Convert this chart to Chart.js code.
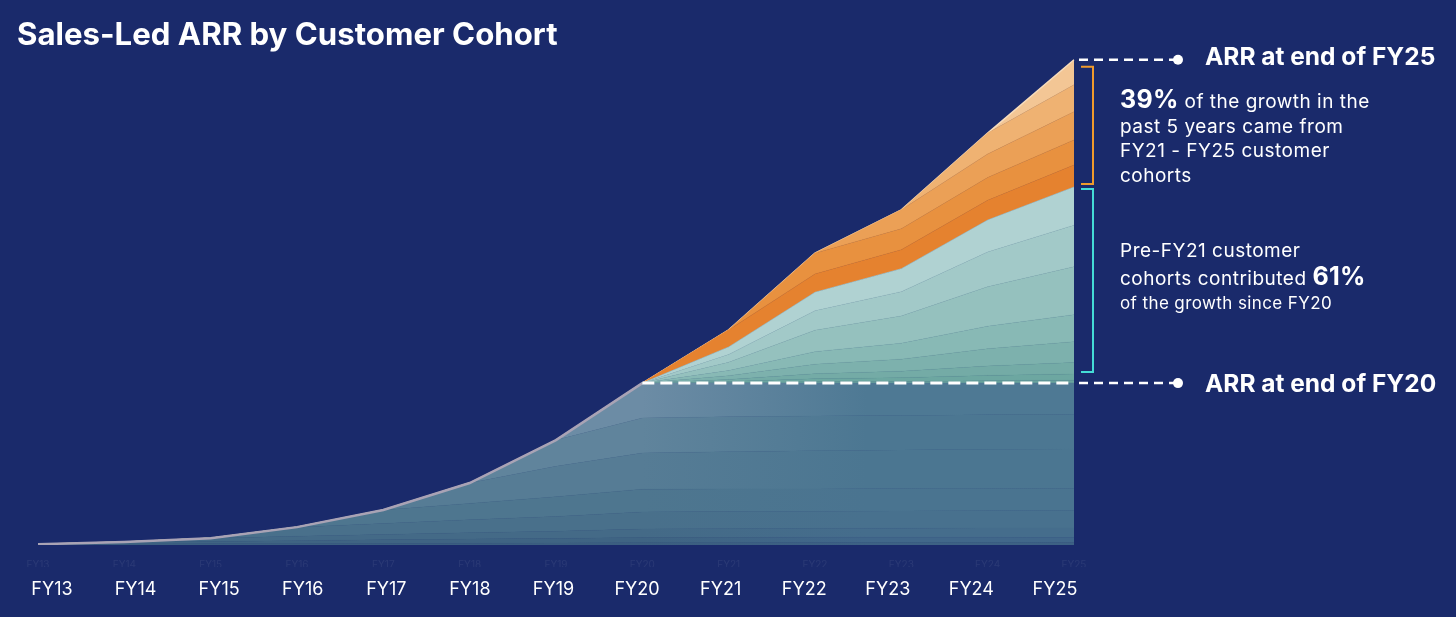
<!DOCTYPE html>
<html>
<head>
<meta charset="utf-8">
<script src="https://cdn.jsdelivr.net/npm/chart.js@4.4.1/dist/chart.umd.min.js"></script>
<style>
  html, body { margin: 0; padding: 0; background: #1a2a6b; }
  #wrap { position: relative; width: 1456px; height: 617px; font-family: Inter, "Noto Sans", sans-serif; color: #fff; }
  #arrChart { position: absolute; left: 0; top: 0; }
  .title { position: absolute; left: 17px; top: 19px; font-size: 31.2px; line-height: 31.5px; font-weight: 700; white-space: nowrap; }
  .big { position: absolute; left: 1205px; font-size: 24.5px; line-height: 24.5px; font-weight: 700; white-space: nowrap; }
  .note { position: absolute; left: 1120px; font-size: 19px; line-height: 24.5px; letter-spacing: 0.5px; white-space: nowrap; }
  .note b { font-size: 25px; font-weight: 700; letter-spacing: 0.3px; }
  .small { font-size: 17px; letter-spacing: 0.4px; }
</style>
</head>
<body>
<div id="wrap">
  <canvas id="arrChart" width="1456" height="617"></canvas>
  <div class="title">Sales-Led ARR by Customer Cohort</div>
  <div class="big" style="top:44px">ARR at end of FY25</div>
  <div class="note" style="top:87px"><b>39%</b> of the growth in the<br>past 5 years came from<br>FY21 - FY25 customer<br>cohorts</div>
  <div class="note" style="top:239px">Pre-FY21 customer<br>cohorts contributed <b>61%</b><br><span class="small">of the growth since FY20</span></div>
  <div class="big" style="top:371px">ARR at end of FY20</div>
</div>
<script>
// Fiscal years on the x axis
const years = ['FY13', 'FY14', 'FY15', 'FY16', 'FY17', 'FY18', 'FY19', 'FY20', 'FY21', 'FY22', 'FY23', 'FY24', 'FY25'];

// ARR per customer cohort (estimated, $M)
const cohortFY13 = [2, 2.5, 3, 3.5, 4, 4.5, 5, 6, 7.5, 10, 11, 13, 14];
const cohortFY14 = [0, 5.5, 6.5, 8, 9.5, 11, 12, 14, 17, 21.5, 23.5, 27.5, 30];
const cohortFY15 = [0, 0, 8.5, 11.5, 14, 17, 19, 22, 28, 37, 41, 49, 55];
const cohortFY16 = [0, 0, 0, 24, 29, 34, 39, 45, 55, 70, 77, 91, 100];
const cohortFY17 = [0, 0, 0, 0, 35.5, 43, 52, 60, 73, 92, 101, 118, 130];
const cohortFY18 = [0, 0, 0, 0, 0, 53.5, 80, 95, 120, 157, 173, 207, 230];
const cohortFY19 = [0, 0, 0, 0, 0, 0, 69, 92, 112, 142, 155, 182, 200];
const cohortFY20 = [0, 0, 0, 0, 0, 0, 0, 92, 108.5, 135.5, 145.5, 167.5, 183];
const cohortFY21 = [0, 0, 0, 0, 0, 0, 0, 0, 45, 48, 50, 52, 58];
const cohortFY22 = [0, 0, 0, 0, 0, 0, 0, 0, 0, 55, 55, 60, 66];
const cohortFY23 = [0, 0, 0, 0, 0, 0, 0, 0, 0, 0, 50, 62, 74];
const cohortFY24 = [0, 0, 0, 0, 0, 0, 0, 0, 0, 0, 0, 55, 71];
const cohortFY25 = [0, 0, 0, 0, 0, 0, 0, 0, 0, 0, 0, 0, 66];

const oldCohorts = [cohortFY13, cohortFY14, cohortFY15, cohortFY16, cohortFY17, cohortFY18, cohortFY19, cohortFY20];
const newCohorts = [cohortFY21, cohortFY22, cohortFY23, cohortFY24, cohortFY25];

// bottom -> top; base colours fade from the left shade to the right shade
const baseLeft = ['#3b5e80', '#3f6483', '#446a87', '#49708b', '#4e768f', '#567c95', '#60849c', '#6c8ca5'];
const baseRight = ['#3d6184', '#41678a', '#456d8c', '#48718e', '#4a7490', '#4b7691', '#4c7792', '#4e7994'];
const growthColors = ['#68a39d', '#6da7a1', '#74aba6', '#7db1ad', '#88b9b5', '#95c1be', '#a2c9c8', '#b0d2d2'];
const newColors = ['#e5822f', '#e8913f', '#eba056', '#efb272', '#f3c695'];

const fy20Index = 7;
const oldTotals = years.map((_, i) => oldCohorts.reduce((s, c) => s + c[i], 0));
const fy20Level = oldTotals[fy20Index];
const fy20Line = oldTotals.map((v, i) => i <= fy20Index ? v : fy20Level);

// split each pre-FY21 cohort into its share of FY20 ARR and its growth on top
const shareOf = (c, i) => i <= fy20Index ? c[i] : c[i] * fy20Level / oldTotals[i];

function baseFill(k) {
    return (context) => {
        const area = context.chart.chartArea;
        if (!area) return baseLeft[k];
        const g = context.chart.ctx.createLinearGradient(area.left, 0, area.right, 0);
        g.addColorStop(0, baseLeft[k]);
        g.addColorStop(fy20Index / (years.length - 1), baseLeft[k]);
        g.addColorStop(0.8, baseRight[k]);
        g.addColorStop(1, baseRight[k]);
        return g;
    };
}

const datasets = [];
oldCohorts.forEach((c, k) => {
    datasets.push({
        label: years[k] + ' cohort', data: c.map((v, i) => shareOf(c, i)), stack: 'arr',
        backgroundColor: baseFill(k), borderColor: baseFill(k), borderWidth: 0.6,
        fill: k === 0 ? 'origin' : '-1'
    });
});
oldCohorts.forEach((c, k) => {
    datasets.push({
        label: years[k] + ' cohort growth', data: c.map((v, i) => v - shareOf(c, i)), stack: 'arr',
        backgroundColor: growthColors[k], borderColor: growthColors[k], borderWidth: 0.6,
        fill: '-1'
    });
});
newCohorts.forEach((data, k) => {
    const last = k === newCohorts.length - 1;
    datasets.push({
        label: years[k + 8] + ' cohort', data, stack: 'arr',
        backgroundColor: newColors[k],
        borderColor: last ? '#f7dcbc' : newColors[k],
        borderWidth: last ? 1.5 : 0.6,
        fill: '-1'
    });
});
// outline up to FY20, then the dashed FY20 level
datasets.push({
    label: 'ARR at end of FY20', data: fy20Line, stack: 'line', order: -1,
    fill: false, borderColor: '#a9a3b5', borderWidth: 2.5,
    segment: {
        borderColor: c => c.p0DataIndex < fy20Index ? '#a9a3b5' : '#ffffff',
        borderDash: c => c.p0DataIndex < fy20Index ? [] : [12, 6],
        borderWidth: c => c.p0DataIndex < fy20Index ? 2.5 : 3
    }
});

// leaders, dots and brackets on the right
const annotationPlugin = {
    id: 'arrAnnotations',
    afterDatasetsDraw(chart) {
        const c = chart.ctx;
        const y = chart.scales.y;
        const right = chart.chartArea.right;
        const lastIdx = years.length - 1;
        const totalEnd = oldTotals[lastIdx] + newCohorts.reduce((s, d) => s + d[lastIdx], 0);
        const yTop = y.getPixelForValue(totalEnd);
        const yOld = y.getPixelForValue(oldTotals[lastIdx]);
        const yBase = y.getPixelForValue(fy20Level);

        c.save();
        [yTop, yBase].forEach(py => {
            c.strokeStyle = '#ffffff';
            c.lineWidth = 2.5;
            c.setLineDash([9, 6]);
            c.beginPath();
            c.moveTo(right + 5, py);
            c.lineTo(right + 100, py);
            c.stroke();
            c.setLineDash([]);
            c.fillStyle = '#ffffff';
            c.beginPath();
            c.arc(right + 104, py, 5, 0, Math.PI * 2);
            c.fill();
        });

        const bracket = (y0, y1, color) => {
            c.strokeStyle = color;
            c.lineWidth = 2;
            c.beginPath();
            c.moveTo(right + 7, y0);
            c.lineTo(right + 19, y0);
            c.lineTo(right + 19, y1);
            c.lineTo(right + 7, y1);
            c.stroke();
        };
        bracket(yTop + 7, yOld - 3, '#f09a2c');
        bracket(yOld + 2, yBase - 11, '#45dcd6');
        c.restore();
    }
};

Chart.defaults.font.family = 'Inter, "Noto Sans", sans-serif';

const ctx = document.getElementById('arrChart').getContext('2d');
new Chart(ctx, {
    type: 'line',
    data: { labels: years, datasets },
    options: {
        responsive: false,
        animation: false,
        devicePixelRatio: 1,
        layout: { padding: { left: 38, right: 382, top: 51, bottom: 20 } },
        elements: { point: { radius: 0 }, line: { tension: 0 } },
        plugins: { legend: { display: false }, tooltip: { enabled: false } },
        scales: {
            x: {
                type: 'category', offset: false,
                grid: { display: false }, border: { display: false },
                ticks: { color: 'rgba(255,255,255,0.07)', font: { size: 10 }, padding: 6, maxRotation: 0, autoSkip: false },
                afterFit: s => { s.height = 22; }
            },
            xl: {
                type: 'linear', position: 'bottom',
                min: -0.1675, max: 12.228,
                grid: { display: false }, border: { display: false },
                ticks: {
                    stepSize: 1, includeBounds: false, autoSkip: false,
                    color: '#ffffff', font: { size: 18 }, padding: 4,
                    callback: v => years[v] ?? ''
                },
                afterFit: s => { s.height = 30; }
            },
            y: { display: false, stacked: true, min: 0, max: 1300 }
        }
    },
    plugins: [annotationPlugin]
});
</script>
</body>
</html>
